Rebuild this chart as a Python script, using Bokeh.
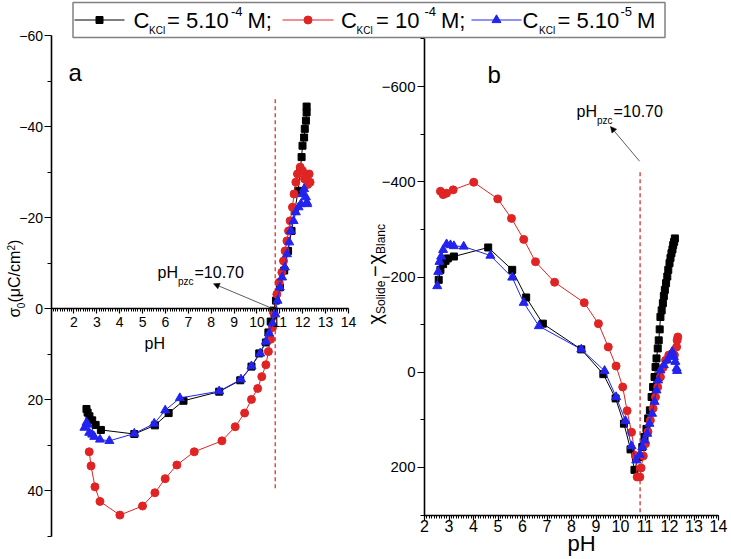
import math
from bokeh.plotting import figure
from bokeh.models import Range1d, FixedTicker, LinearAxis, Label, Arrow, NormalHead
from bokeh.embed import file_html
from bokeh.resources import INLINE

FONT = "Liberation Sans"
BLACK = "#000000"
RED = "#e02424"
BLUE = "#2323f0"
DASH_RED = "#e04a4a"
W, H = 731, 559

# ---------------- panel a : sigma0 vs pH ----------------
ph_a_k = [2.55, 2.60, 2.68, 2.80, 2.95, 3.18, 4.64, 5.54, 6.14, 6.79, 8.35, 9.27, 9.76, 10.10,
          10.39, 10.50, 10.60, 10.72, 10.83, 11.00, 11.19, 11.36, 11.51, 11.65, 11.80, 11.89,
          11.95, 11.99, 12.06, 12.09, 12.14, 12.17, 12.17]
sig_k = [22.0, 22.8, 23.6, 24.5, 25.5, 26.6, 27.5, 25.6, 22.9, 20.2, 18.2, 15.7, 12.7, 9.8,
         7.4, 5.2, 2.8, 0.4, -1.8, -4.7, -8.4, -12.7, -17.1, -21.5, -25.9, -30.3,
         -33.3, -35.8, -37.6, -39.5, -41.3, -43.1, -44.4]

ph_a_r = [2.67, 2.75, 2.92, 3.14, 4.01, 5.00, 5.54, 5.99, 6.50, 7.26, 8.47, 9.05, 9.46, 9.76,
          10.03, 10.21, 10.39, 10.50, 10.60, 10.68, 10.75, 10.87, 10.97, 11.09, 11.16, 11.23,
          11.31, 11.38, 11.45, 11.55, 11.62, 11.70, 11.77, 11.89, 11.99, 12.08, 12.14, 12.22,
          12.28, 12.32]
sig_r = [31.4, 34.5, 39.1, 42.3, 45.3, 43.3, 40.4, 37.3, 34.3, 31.4, 29.0, 25.9, 22.9, 19.9,
         17.5, 14.9, 12.3, 9.4, 6.7, 4.1, 1.1, -3.2, -5.8, -8.0, -10.5, -12.7,
         -14.9, -17.1, -19.3, -22.3, -25.2, -27.8, -29.6, -31.1, -30.3, -28.5, -29.2, -27.3,
         -29.6, -27.8]

ph_a_b = [2.46, 2.55, 2.60, 2.67, 2.80, 2.89, 3.14, 3.55, 4.64, 5.51, 5.99, 6.63, 8.35, 9.30,
          9.76, 10.14, 10.39, 10.53, 10.68, 10.80, 10.90, 11.00, 11.10, 11.22, 11.31, 11.41,
          11.48, 11.60, 11.70, 11.82, 11.92, 11.99, 12.06, 12.14, 12.18, 12.20]
sig_b = [26.1, 25.0, 25.4, 27.2, 27.6, 28.1, 28.7, 29.0, 27.4, 25.2, 22.3, 19.6, 18.1, 15.5,
         12.6, 9.8, 7.2, 5.4, 3.2, 1.2, -1.8, -4.7, -6.9, -9.1, -12.0, -14.6,
         -17.1, -19.3, -21.2, -22.3, -23.0, -25.2, -26.3, -24.5, -23.4, -23.0]

# ---------------- panel b : chi_solide - chi_blanc vs pH ----------------
ph_b_k = [2.58, 2.65, 2.76, 2.86, 2.95, 3.20, 4.60, 5.58, 6.15, 6.83, 8.40, 9.30, 9.80, 10.14,
          10.41, 10.57, 10.75, 10.89, 10.98, 11.06, 11.13, 11.20, 11.27, 11.33, 11.39, 11.43,
          11.47, 11.52, 11.56, 11.60, 11.63, 11.68, 11.73, 11.77, 11.81, 11.86, 11.91, 11.95,
          12.00, 12.04, 12.08, 12.12, 12.15, 12.19, 12.22]
chi_k = [-194, -215, -227, -234, -239, -243, -262, -215, -157, -102, -48, 4, 55, 108,
         162, 205, 178, 157, 136, 119, 97, 80, 52, 31, 10, -11,
         -29, -50, -67, -90, -116, -130, -145, -160, -173, -187, -201, -215,
         -229, -240, -250, -258, -267, -274, -281]

ph_b_r = [2.65, 2.76, 2.90, 3.17, 4.01, 4.99, 5.55, 6.05, 6.53, 7.31, 8.52, 9.10, 9.50, 9.82,
          10.09, 10.27, 10.45, 10.61, 10.68, 10.79, 10.84, 10.93, 11.02, 11.12, 11.22, 11.33,
          11.43, 11.52, 11.63, 11.74, 11.84, 11.97, 12.11, 12.20, 12.29, 12.31, 12.34]
chi_r = [-380, -373, -376, -383, -399, -364, -323, -279, -232, -189, -146, -102, -53, -13,
         31, 81, 126, 175, 220, 220, 201, 176, 150, 125, 101, 76,
         52, 31, 10, -10, -25, -36, -39, -36, -53, -67, -74]

ph_b_b = [2.52, 2.56, 2.61, 2.68, 2.76, 2.90, 3.06, 3.20, 3.60, 4.69, 5.58, 6.05, 6.67, 8.40,
          9.35, 9.82, 10.20, 10.45, 10.64, 10.79, 10.89, 10.98, 11.09, 11.18, 11.29, 11.39,
          11.47, 11.54, 11.63, 11.77, 11.91, 12.04, 12.11, 12.18, 12.24, 12.29, 12.31]
chi_b = [-181, -211, -232, -243, -257, -269, -267, -265, -264, -245, -199, -146, -97, -48,
         -3, 52, 102, 155, 185, 173, 157, 143, 129, 108, 87, 62,
         38, 17, -4, -15, -25, -36, -43, -32, -22, -8, -3]

pzc_line_x = 10.8            # dashed pzc marker as drawn
pzc_a_ext = (-46, 40)
pzc_b_ext = (-420, 300)

a_xlim = (1, 14)
a_ylim = (-60, 50)
b_xlim = (2, 14)
b_ylim = (-700, 300)
a_yticks = [-60, -40, -20, 0, 20, 40]
a_yminor = [-50, -30, -10, 10, 30, 50]
b_yticks = [-600, -400, -200, 0, 200]
b_yminor = [-700, -500, -300, -100, 100, 300]
ph_ticks = list(range(2, 15))

# legend entries
leg_conc = ["= 5.10", "= 10", "= 5.10"]
leg_exp = ["-4", "-4", "-5"]
leg_unit = ["M;", "M;", "M"]

# pixel placement of each panel's axes on the page (layout only)
A_PX = (50.5, 348.0)   # x = 1 .. 14
A_PY = (35.0, 536.0)   # y = -60 .. 50
B_PX = (424.0, 718.0)  # x = 2 .. 14
B_PY = (38.4, 514.6)   # y = -700 .. 300
BASE_SHIFT = 0.35      # em offset to land the glyph baseline where intended


def xrange_for(px, lim):
    s = (lim[1] - lim[0]) / (px[1] - px[0])
    return Range1d(lim[0] - px[0] * s, lim[0] + (W - px[0]) * s)


def yrange_for(py, lim):
    # lim[0] sits at py[0] (top), lim[1] at py[1] (bottom); page y grows downward
    s = (lim[1] - lim[0]) / (py[1] - py[0])
    return Range1d(start=lim[0] + (H - py[0]) * s, end=lim[0] - py[0] * s)


p = figure(width=W, height=H, x_range=Range1d(0, W), y_range=Range1d(H, 0),
           x_axis_location=None, y_axis_location=None, min_border=0,
           output_backend="svg", toolbar_location=None)
p.outline_line_color = None
p.grid.visible = False
p.background_fill_color = "white"
p.border_fill_color = "white"
p.extra_x_ranges = {"xa": xrange_for(A_PX, a_xlim), "xb": xrange_for(B_PX, b_xlim)}
p.extra_y_ranges = {"ya": yrange_for(A_PY, a_ylim), "yb": yrange_for(B_PY, b_ylim)}


def make_axis(xr, yr, loc, bounds, ticks, minor, size, tick_out, minor_out, standoff):
    ax = LinearAxis(x_range_name=xr, y_range_name=yr, fixed_location=loc, bounds=bounds,
                    ticker=FixedTicker(ticks=ticks, minor_ticks=minor))
    ax.axis_line_color = "black"
    ax.axis_line_width = 1.6
    ax.major_tick_line_color = "black"
    ax.minor_tick_line_color = "black"
    ax.major_tick_line_width = 1.2
    ax.minor_tick_line_width = 1
    ax.major_tick_in = 0
    ax.major_tick_out = tick_out
    ax.minor_tick_in = 0
    ax.minor_tick_out = minor_out
    ax.major_label_text_font = FONT
    ax.major_label_text_font_size = size
    ax.major_label_text_color = "black"
    ax.major_label_standoff = standoff
    return ax


minor_a = [round(1 + 0.1 * i, 1) for i in range(131)]
minor_b = [round(2 + 0.1 * i, 1) for i in range(121)]
p.add_layout(make_axis("xa", "ya", a_xlim[0], a_ylim, a_yticks, a_yminor, "14px", 7, 4, 1), "left")
p.add_layout(make_axis("xa", "ya", 0, a_xlim, ph_ticks, minor_a, "14px", 5, 3, 3), "below")
p.add_layout(make_axis("xb", "yb", b_xlim[0], b_ylim, b_yticks, b_yminor, "15px", 7, 4, 2), "left")
p.add_layout(make_axis("xb", "yb", b_ylim[1], b_xlim, ph_ticks, minor_b, "16px", 5, 3, 0), "below")


def lab(x, y, text, size, xo=0, yo=0, angle=0.0):
    # x, y: intended baseline start on the page (pixels, y downward)
    if angle == 0.0:
        y = y - BASE_SHIFT * size
    else:
        x = x - BASE_SHIFT * size
    p.add_layout(Label(x=x, y=y, text=text, x_offset=xo, y_offset=yo, angle=angle,
                       text_font=FONT, text_font_size=f"{size}px", text_color="black",
                       text_align="left", text_baseline="alphabetic"))


def draw_series(xs, ys, color, marker, size, xr, yr):
    p.line(xs, ys, line_color=color, line_width=1, x_range_name=xr, y_range_name=yr)
    p.scatter(xs, ys, marker=marker, size=size, fill_color=color, line_color=color,
              x_range_name=xr, y_range_name=yr)


# ---------- panel a ----------
p.segment(x0=[pzc_line_x], y0=[pzc_a_ext[0]], x1=[pzc_line_x], y1=[pzc_a_ext[1]],
          line_color=DASH_RED, line_width=1.5, line_dash="4 3", x_range_name="xa", y_range_name="ya")
draw_series(ph_a_k, sig_k, BLACK, "square", 7, "xa", "ya")
draw_series(ph_a_r, sig_r, RED, "circle", 8, "xa", "ya")
draw_series(ph_a_b, sig_b, BLUE, "triangle", 9, "xa", "ya")
p.add_layout(Arrow(end=NormalHead(size=6, fill_color="black", line_color="black", line_width=0.5),
                   x_start=10.7, y_start=0, x_end=8.10, y_end=-5.5,
                   x_range_name="xa", y_range_name="ya", line_color="#333333", line_width=0.8))

# ---------- panel b ----------
p.segment(x0=[pzc_line_x], y0=[pzc_b_ext[0]], x1=[pzc_line_x], y1=[pzc_b_ext[1]],
          line_color=DASH_RED, line_width=1.5, line_dash="4 3", x_range_name="xb", y_range_name="yb")
draw_series(ph_b_k, chi_k, BLACK, "square", 7, "xb", "yb")
draw_series(ph_b_r, chi_r, RED, "circle", 8, "xb", "yb")
draw_series(ph_b_b, chi_b, BLUE, "triangle", 9, "xb", "yb")
p.add_layout(Arrow(end=NormalHead(size=6, fill_color="black", line_color="black", line_width=0.5),
                   x_start=10.78, y_start=-443, x_end=9.59, y_end=-516,
                   x_range_name="xb", y_range_name="yb", line_color="#333333", line_width=0.8))

# ---------- texts (page-pixel placement) ----------
R = math.pi / 2
lab(68, 80, "a", 24)
lab(487, 82, "b", 24)
for (tx, ty) in [(157, 278), (576, 117)]:
    lab(tx, ty, "pH", 16)
    lab(tx + 20.5, ty + 6.5, "pzc", 10)
    lab(tx + 37, ty, "=10.70", 16)
lab(144, 349, "pH", 16)
lab(567, 551, "pH", 22)
# sigma_0 (muC/cm^2)
lab(20, 317, "σ", 16, angle=R)
lab(23.5, 317, "0", 10, yo=9.3, angle=R)
lab(20, 317, "(μC/cm", 16, yo=15, angle=R)
lab(14, 317, "2", 10, yo=67, angle=R)
lab(20, 317, ")", 16, yo=72.5, angle=R)
# chi_Solide - chi_Blanc
lab(381, 324, "χ", 20, angle=R)
lab(385, 324, "Solide", 12, yo=10.5, angle=R)
lab(381, 324, "−", 20, yo=47.5, angle=R)
lab(381, 324, "χ", 20, yo=60, angle=R)
lab(385, 324, "Blanc", 12, yo=70.5, angle=R)

# ---------- legend ----------
p.quad(left=[72.5], right=[664.5], top=[2], bottom=[37],
       fill_color="white", line_color="#808080", line_width=1.5)
leg_colors = [BLACK, RED, BLUE]
leg_markers = ["square", "circle", "triangle"]
leg_sizes = [7, 8, 9]
leg_line = [(74, 124), (282, 333), (471, 521)]
leg_text_x = [(133, 148.5, 166.5, 230.5, 247), (340.5, 356, 375.5, 424, 440.5),
              (522, 538.5, 557, 620, 636.5)]
for i in range(3):
    x0, x1 = leg_line[i]
    p.line([x0, x1], [19.5, 19.5], line_color=leg_colors[i], line_width=1)
    p.scatter([(x0 + x1) / 2], [19.5], marker=leg_markers[i], size=leg_sizes[i],
              fill_color=leg_colors[i], line_color=leg_colors[i])
    tx = leg_text_x[i]
    lab(tx[0], 27.5, "C", 22)
    lab(tx[1], 33, "KCl", 10)
    lab(tx[2], 27.5, leg_conc[i], 22)
    lab(tx[3], 16, leg_exp[i], 13)
    lab(tx[4], 27.5, leg_unit[i], 22)

open("out.html", "w").write(file_html(p, INLINE, "chart"))
